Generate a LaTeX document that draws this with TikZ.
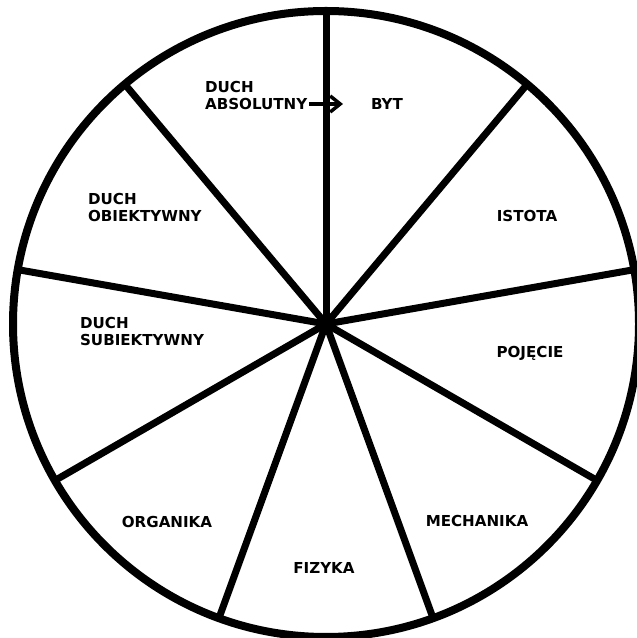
\documentclass[tikz,border=0pt]{standalone}
\usepackage{fontspec}
\setsansfont{DejaVu Sans}
\usetikzlibrary{arrows.meta,positioning}

\begin{document}
\begin{tikzpicture}[
    rim/.style={line width=0.16cm},
    spoke/.style={line width=0.14cm},
    lbl/.style={font=\sffamily\bfseries\fontsize{8.6}{9.8}\selectfont, align=left, inner sep=1pt},
]
    \useasboundingbox (0,0) rectangle (12.74,12.76);

    % Wheel
    \coordinate (c) at (6.52,6.28);
    \draw[rim] (c) circle (6.26);
    \foreach \a in {90,50,10,-30,-70,-110,-150,170,130}
        \draw[spoke] (c) -- ++(\a:6.26);

    % Sector labels
    \node[lbl] (byt) at (7.74,10.68) {BYT};
    \node[lbl] (istota) at (10.54,8.44) {ISTOTA};
    \node[lbl] (pojecie) at (10.6,5.7) {POJĘCIE};
    \node[lbl] (mech) at (9.54,2.34) {MECHANIKA};
    \node[lbl] (fiz) at (6.48,1.4) {FIZYKA};
    \node[lbl] (org) at (3.34,2.32) {ORGANIKA};
    \node[lbl, anchor=west] (subj) at (1.56,6.13) {DUCH\\SUBIEKTYWNY};
    \node[lbl, anchor=west] (obj) at (1.72,8.61) {DUCH\\OBIEKTYWNY};
    \node[lbl, anchor=west] (abs) at (4.06,10.85) {DUCH\\ABSOLUTNY};

    % Arrow
    \coordinate (tip) at (6.86,10.68);
    \draw[line width=0.07cm, -{Straight Barb[length=2mm,width=3.2mm]}] (abs.east |- byt.center) -- (tip);
\end{tikzpicture}
\end{document}
